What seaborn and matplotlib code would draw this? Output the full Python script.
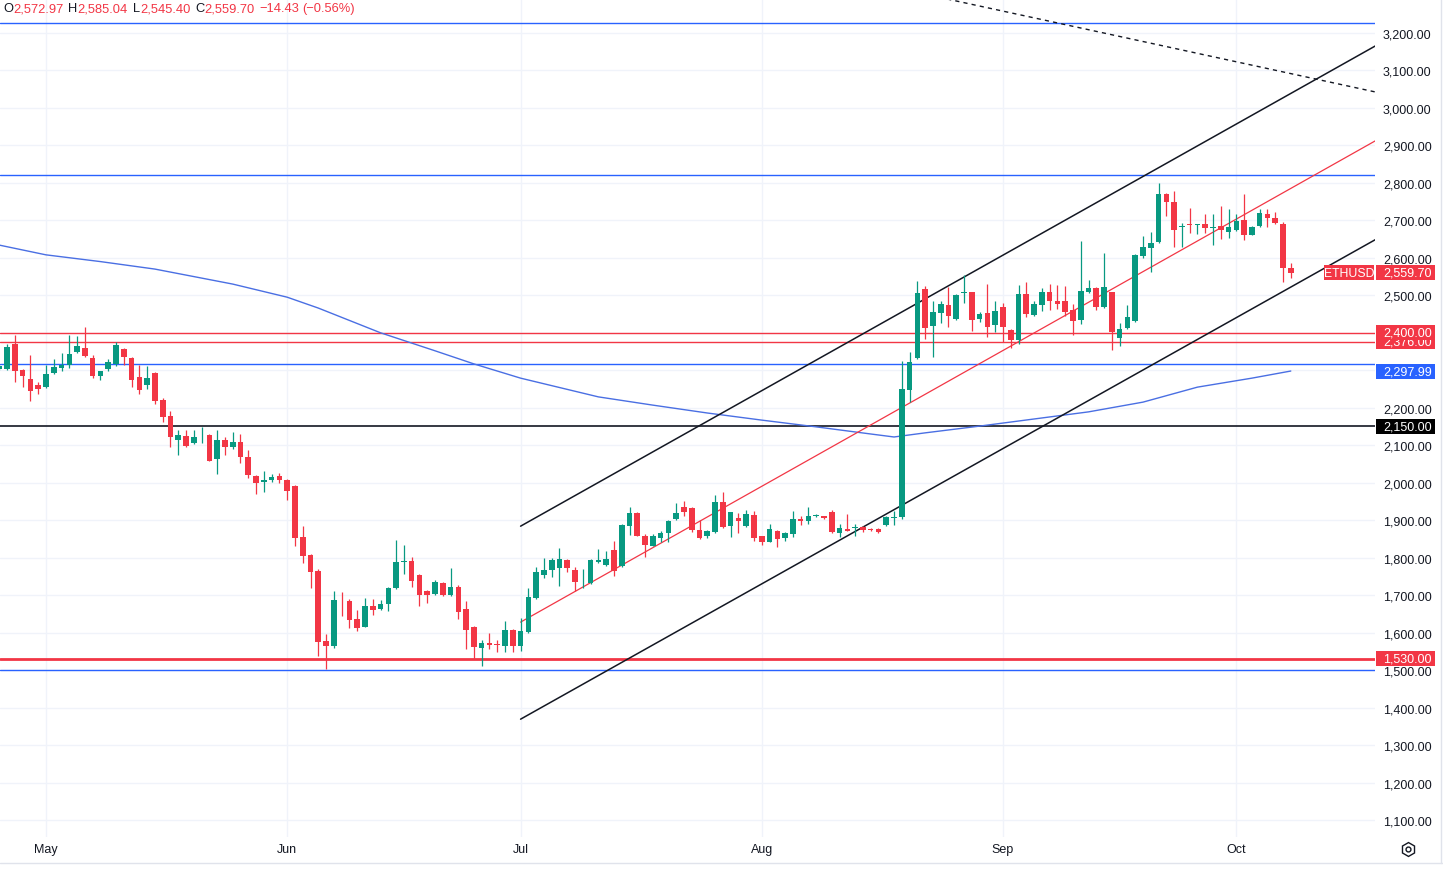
import numpy as np
import pandas as pd
import matplotlib
matplotlib.use("Agg")
import matplotlib.pyplot as plt
import matplotlib.dates as mdates
import matplotlib.transforms as mtrans
from matplotlib.patches import Rectangle
from matplotlib.lines import Line2D
from matplotlib.ticker import FuncFormatter
import seaborn as sns

# daily ETHUSD candles, 25 Apr -> 8 Oct
dates = pd.date_range("2024-04-25", "2024-10-08", freq="D")

opens = [
    2303, 2303, 2370, 2301, 2277, 2261,
    2256, 2293, 2306, 2315, 2348, 2360, 2333, 2285, 2303, 2317, 2357, 2333, 2282, 2262, 2293, 2222,
    2178, 2115, 2125, 2106, 2129, 2127, 2062, 2114, 2096, 2109, 2069, 2018, 2001, 2008, 2018,
    2007, 1992, 1854, 1808, 1765, 1577, 1563, 1688, 1685, 1636, 1616, 1670, 1663, 1676, 1719,
    1789, 1790, 1754, 1712, 1703, 1732, 1700, 1723, 1663, 1616, 1559, 1572, 1570, 1565, 1607,
    1565, 1601, 1692, 1754, 1767, 1772, 1795, 1768, 1742, 1732, 1788, 1780, 1820, 1777, 1885,
    1918, 1859, 1832, 1852, 1865, 1903, 1934, 1933, 1874, 1857, 1869, 1948, 1885, 1907, 1885, 1914,
    1857, 1843, 1871, 1853, 1863, 1903, 1897, 1911, 1910, 1923, 1865, 1876, 1879, 1881, 1877,
    1877, 1887, 1905, 1908, 2248, 2332, 2517, 2417, 2452, 2474, 2437, 2507, 2508, 2437, 2453, 2422,
    2468, 2407, 2381, 2504, 2448, 2474, 2508, 2484, 2486, 2461, 2435, 2508, 2520, 2468, 2508,
    2385, 2413, 2432, 2606, 2625, 2641, 2770, 2748, 2683, 2690, 2688, 2690, 2680, 2684, 2670,
    2673, 2701, 2662, 2684, 2717, 2706, 2690, 2572.97,
]
highs = [
    2318, 2370, 2395, 2303, 2341, 2269,
    2315, 2330, 2346, 2395, 2392, 2416, 2341, 2299, 2330, 2376, 2360, 2335, 2315, 2312, 2295, 2226,
    2191, 2141, 2141, 2141, 2149, 2130, 2141, 2122, 2135, 2130, 2088, 2020, 2031, 2023, 2026,
    2010, 1994, 1885, 1810, 1770, 1597, 1712, 1709, 1690, 1660, 1692, 1690, 1687, 1721, 1846,
    1834, 1803, 1756, 1714, 1741, 1734, 1772, 1727, 1684, 1618, 1579, 1598, 1580, 1630, 1609,
    1639, 1719, 1776, 1799, 1799, 1825, 1797, 1775, 1770, 1797, 1823, 1818, 1845, 1890, 1936,
    1922, 1862, 1862, 1871, 1901, 1946, 1950, 1935, 1900, 1873, 1967, 1974, 1923, 1920, 1927, 1925,
    1859, 1890, 1873, 1868, 1925, 1912, 1934, 1916, 1912, 1926, 1890, 1916, 1890, 1885, 1880,
    1879, 1910, 1925, 2326, 2348, 2537, 2524, 2484, 2484, 2521, 2503, 2554, 2510, 2456, 2530, 2484,
    2480, 2410, 2528, 2536, 2486, 2520, 2530, 2527, 2526, 2477, 2646, 2542, 2522, 2613, 2510,
    2425, 2474, 2610, 2657, 2668, 2800, 2772, 2779, 2692, 2733, 2690, 2718, 2718, 2738, 2730,
    2717, 2770, 2685, 2730, 2730, 2722, 2695, 2585.04,
]
lows = [
    2300, 2301, 2269, 2256, 2219, 2237,
    2254, 2291, 2298, 2306, 2346, 2335, 2280, 2274, 2298, 2312, 2314, 2256, 2237, 2250, 2210, 2162,
    2095, 2075, 2095, 2104, 2106, 2058, 2023, 2074, 2090, 2052, 2013, 1971, 1974, 2001, 1998,
    1955, 1831, 1785, 1720, 1538, 1503, 1560, 1643, 1612, 1605, 1614, 1648, 1661, 1657, 1716,
    1756, 1723, 1672, 1679, 1700, 1698, 1699, 1636, 1556, 1530, 1512, 1555, 1548, 1549, 1549,
    1551, 1598, 1690, 1746, 1749, 1725, 1762, 1712, 1720, 1730, 1786, 1778, 1752, 1775, 1861,
    1857, 1802, 1830, 1843, 1843, 1901, 1910, 1868, 1850, 1853, 1867, 1879, 1854, 1865, 1883, 1845,
    1834, 1841, 1828, 1845, 1855, 1888, 1890, 1909, 1903, 1866, 1855, 1870, 1859, 1868, 1872,
    1866, 1885, 1887, 1903, 2216, 2330, 2383, 2335, 2426, 2415, 2435, 2479, 2406, 2429, 2388, 2402,
    2376, 2359, 2370, 2441, 2445, 2458, 2462, 2463, 2445, 2394, 2424, 2505, 2460, 2466, 2355,
    2364, 2411, 2430, 2600, 2561, 2639, 2712, 2630, 2630, 2665, 2664, 2667, 2635, 2650, 2652,
    2671, 2648, 2660, 2682, 2683, 2689, 2535, 2545.40,
]
closes = [
    2312, 2363, 2299, 2285, 2246, 2250,
    2290, 2310, 2315, 2343, 2365, 2337, 2286, 2299, 2322, 2368, 2335, 2275, 2248, 2280, 2218, 2175,
    2122, 2127, 2099, 2122, 2131, 2058, 2114, 2096, 2109, 2069, 2021, 2000, 2008, 2015, 2008,
    1979, 1853, 1805, 1763, 1576, 1563, 1687, 1686, 1634, 1612, 1671, 1659, 1676, 1719, 1789,
    1791, 1739, 1700, 1700, 1736, 1700, 1723, 1656, 1608, 1561, 1572, 1568, 1567, 1607, 1565,
    1603, 1696, 1763, 1767, 1795, 1796, 1772, 1734, 1744, 1795, 1795, 1797, 1765, 1888, 1918,
    1859, 1834, 1859, 1865, 1899, 1918, 1923, 1874, 1853, 1870, 1948, 1881, 1921, 1899, 1916, 1853,
    1841, 1877, 1850, 1866, 1903, 1897, 1912, 1912, 1905, 1868, 1878, 1872, 1880, 1875, 1875,
    1868, 1908, 1909, 2250, 2321, 2506, 2412, 2456, 2477, 2446, 2501, 2509, 2435, 2450, 2415, 2457,
    2415, 2381, 2504, 2449, 2477, 2510, 2484, 2477, 2455, 2432, 2511, 2520, 2468, 2523, 2401,
    2410, 2443, 2608, 2628, 2640, 2770, 2748, 2675, 2685, 2688, 2690, 2680, 2683, 2673, 2683,
    2699, 2662, 2683, 2720, 2706, 2692, 2574.13, 2559.70,
]

# 200-day moving average
ma_dates = ["2024-04-25", "2024-05-01", "2024-05-08", "2024-05-15", "2024-05-25", "2024-06-01",
            "2024-06-05", "2024-06-13", "2024-06-20", "2024-06-25", "2024-07-01", "2024-07-11",
            "2024-07-18", "2024-07-25", "2024-08-01", "2024-08-08", "2024-08-15", "2024-08-18",
            "2024-08-22", "2024-08-29", "2024-09-05", "2024-09-12", "2024-09-19", "2024-09-26",
            "2024-10-03", "2024-10-08"]
ma_values = [2634, 2608, 2590, 2570, 2530, 2495, 2466, 2400, 2352, 2317, 2279, 2229,
             2207, 2186, 2167, 2149, 2130, 2122, 2133, 2151, 2170, 2189, 2215, 2255,
             2279, 2297.99]

# horizontal levels
blue_levels = [3227, 2821, 2317, 1500]
red_levels = [2400, 2376]
support_level = 1530
pivot_level = 2150

# drawn trend lines (date, price)
channel_upper = [("2024-07-01", 1884), ("2024-10-25", 3237)]
channel_lower = [("2024-07-01", 1369), ("2024-10-25", 2720)]
channel_mid = [("2024-07-01", 1628), ("2024-10-25", 2984)]
dashed_trend = [("2024-08-15", 3335), ("2024-10-25", 3015)]

GREEN = "#089981"
RED = "#f23645"
BLUE = "#2962ff"
DARK = "#131722"
GRID = "#f0f3fa"

sns.set_theme(style="white")
plt.rcParams["font.family"] = ["Liberation Sans", "DejaVu Sans"]

W, H = 1443, 870
fig = plt.figure(figsize=(W / 100, H / 100), dpi=100)
ax = fig.add_axes([0, 32 / H, 1375 / W, 838 / H])

x = mdates.date2num(dates)
o = np.array(opens, dtype=float)
c = np.array(closes, dtype=float)
col = np.where(c >= o, GREEN, RED)

# moving average through seaborn
ma_x = mdates.date2num(pd.to_datetime(ma_dates))
sns.lineplot(x=ma_x, y=ma_values, ax=ax, color="#4a6fe3", linewidth=1.0, zorder=3)

for lvl in blue_levels:
    ax.axhline(lvl, color=BLUE, lw=1.0, zorder=2)
for lvl in red_levels:
    ax.axhline(lvl, color=RED, lw=1.0, zorder=2)
ax.axhline(support_level, color=RED, lw=2.0, zorder=2)
ax.axhline(pivot_level, color=DARK, lw=1.2, zorder=2)


def draw_line(pts, **kw):
    xs = mdates.date2num(pd.to_datetime([p[0] for p in pts]))
    ys = [p[1] for p in pts]
    ax.plot(xs, ys, **kw)


draw_line(channel_upper, color=DARK, lw=1.1, zorder=3)
draw_line(channel_lower, color=DARK, lw=1.1, zorder=3)
draw_line(channel_mid, color=RED, lw=0.9, zorder=3)
draw_line(dashed_trend, color=DARK, lw=1.0, dashes=(3, 3), zorder=3)

# candles
ax.vlines(x, lows, highs, colors=col, linewidth=0.9, zorder=4)
body_low = np.minimum(o, c)
body_h = np.maximum(np.abs(c - o), 1.5)
ax.bar(x, body_h, bottom=body_low, width=0.72, color=col, linewidth=0, zorder=5)

may1 = mdates.date2num(pd.Timestamp("2024-05-01"))
ax.set_xlim(may1 - 46 / 7.78, may1 + 1329 / 7.78)
ax.set_ylim(1054.6, 3290.7)

ax.set_yticks(np.arange(1100, 3300, 100))
ax.yaxis.set_major_formatter(FuncFormatter(lambda v, _: f"{v:,.2f}"))
ax.yaxis.tick_right()
ax.xaxis.set_major_locator(mdates.MonthLocator())
ax.xaxis.set_major_formatter(mdates.DateFormatter("%b"))
ax.tick_params(axis="y", length=0, pad=5.8, labelsize=9, labelcolor=DARK)
ax.tick_params(axis="x", length=0, pad=4.5, labelsize=9, labelcolor=DARK)
ax.grid(True, color=GRID, lw=1.0)
ax.set_axisbelow(True)
for s in ax.spines.values():
    s.set_visible(False)

# price tags on the right scale
blend = mtrans.blended_transform_factory(ax.transAxes, ax.transData)
px = 1 / 1375
tag_h = 15 * 2.6684


def price_tag(val, color, z=6):
    ax.add_patch(Rectangle((1 + 1 * px, val - tag_h / 2), 59 * px, tag_h, transform=blend,
                           facecolor=color, edgecolor="none", clip_on=False, zorder=z))
    ax.text(1 + 8 * px, val, f"{val:,.2f}", transform=blend, color="white",
            va="center", ha="left", fontsize=9, clip_on=False, zorder=z + 0.5)


price_tag(red_levels[1], RED, z=6)
price_tag(red_levels[0], RED, z=8)
price_tag(ma_values[-1], BLUE)
price_tag(pivot_level, "#000000")
price_tag(support_level, RED)
price_tag(closes[-1], RED)
ax.add_patch(Rectangle((1324 * px, closes[-1] - tag_h / 2), 50 * px, tag_h, transform=blend,
                       facecolor=RED, edgecolor="none", clip_on=False, zorder=6))
ax.text(1349 * px, closes[-1], "ETHUSD", transform=blend, color="white", va="center",
        ha="center", fontsize=8.8, clip_on=False, zorder=7)

# OHLC header
chg = closes[-1] - closes[-2]
pct = chg / closes[-2] * 100
pieces = [("O", DARK), (f"{opens[-1]:,.2f}", RED), ("H", DARK), (f"{highs[-1]:,.2f}", RED),
          ("L", DARK), (f"{lows[-1]:,.2f}", RED), ("C", DARK), (f"{closes[-1]:,.2f}", RED),
          (f"{chg:+.2f}".replace("-", "\u2212"), RED),
          (f"({pct:+.2f}%)".replace("-", "\u2212"), RED)]
renderer = fig.canvas.get_renderer()
cur = 3
for i, (txt, colr) in enumerate(pieces):
    t = fig.text(cur / W, 1 - 9 / H, txt, color=colr, fontsize=9.3, va="center", ha="left")
    wpx = t.get_window_extent(renderer).width
    gap = 0 if txt in ("O", "H", "L", "C") else 5
    if i == 8:
        gap = 3
    cur += wpx + gap

# frame bits and settings icon
fig.add_artist(Line2D([0, 1], [1 - 864 / H] * 2, color="#e0e3eb", lw=1, transform=fig.transFigure))
fig.add_artist(Line2D([1441 / W] * 2, [1 - 864 / H, 1], color="#e0e3eb", lw=1, transform=fig.transFigure))
fig.add_artist(Line2D([1408 / W], [1 - 850 / H], marker="h", markersize=10, markerfacecolor="none",
                      markeredgecolor=DARK, markeredgewidth=1, transform=fig.transFigure))
fig.add_artist(Line2D([1408 / W], [1 - 850 / H], marker="o", markersize=3.5, markerfacecolor="none",
                      markeredgecolor=DARK, markeredgewidth=1, transform=fig.transFigure))

fig.savefig("out.png", dpi=100, facecolor="white")
